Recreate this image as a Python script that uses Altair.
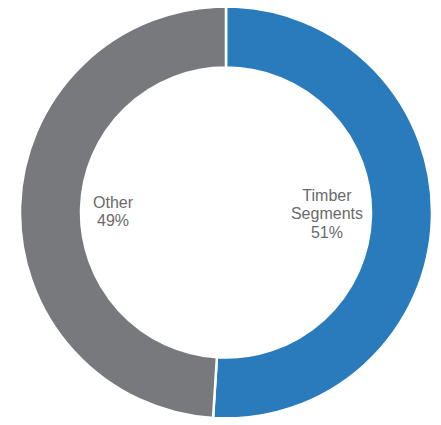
import altair as alt
import pandas as pd

categories = ["Timber Segments", "Other"]
label_names = ["Timber\nSegments", "Other"]
shares = [51, 49]
colors = ["#2a7bbb", "#78797c"]

labels_txt = [f"{n}\n{v}%" for n, v in zip(label_names, shares)]
df = pd.DataFrame({
    "category": categories,
    "share": shares,
    "order": [0, 1],
    "label_t": [labels_txt[0], ""],
    "label_o": ["", labels_txt[1]],
})

CX, CY = 218, 204.5

base = alt.Chart(df).encode(
    theta=alt.Theta("share:Q", stack=True),
    order=alt.Order("order:Q"),
    x=alt.value(CX),
    y=alt.value(CY),
)

arcs = base.mark_arc(
    outerRadius=206, innerRadius=145, stroke="white", strokeWidth=2.5
).encode(
    color=alt.Color(
        "category:N",
        scale=alt.Scale(domain=categories, range=colors),
        legend=None,
    ),
)

text_props = dict(
    font="Liberation Sans",
    fontSize=16,
    lineBreak="\n",
    lineHeight=18.5,
    align="center",
    baseline="middle",
    color="#6a6a6a",
)

label_t = base.mark_text(radius=101, dy=-20, **text_props).encode(text="label_t:N")
label_o = base.mark_text(radius=113, dy=-6, **text_props).encode(text="label_o:N")

chart = (
    alt.layer(arcs, label_t, label_o)
    .properties(width=425, height=409, padding=0, autosize="none")
    .configure(background="white")
    .configure_view(stroke=None)
)

chart.save("out.html", embed_options={"renderer": "svg", "actions": False})
